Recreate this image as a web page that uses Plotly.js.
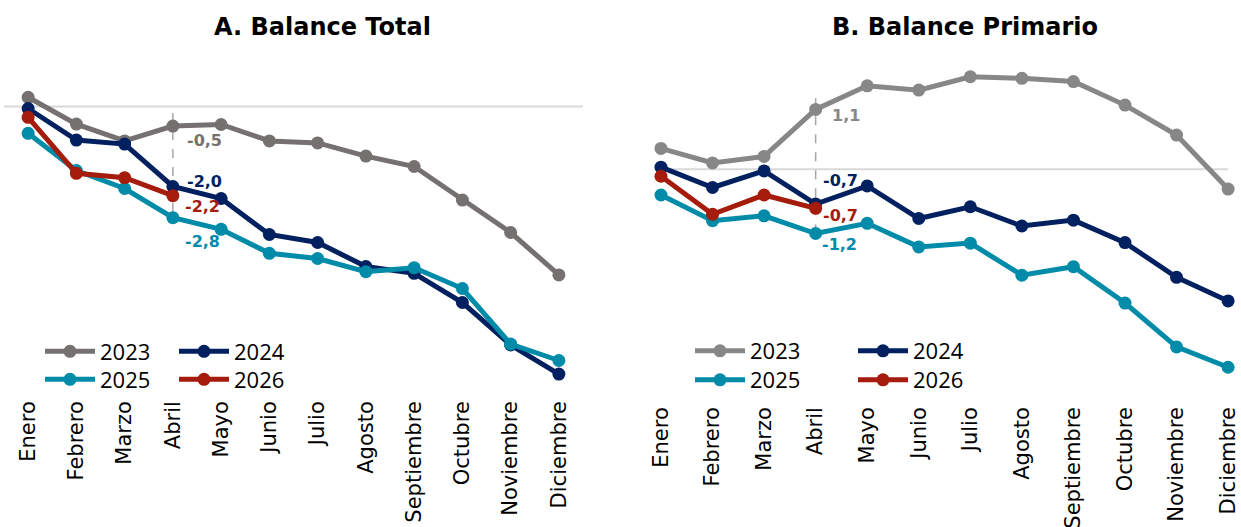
<!DOCTYPE html>
<html>
<head>
<meta charset="utf-8">
<script src="https://cdn.plot.ly/plotly-3.0.1.min.js"></script>
<style>html,body{margin:0;padding:0;background:#fff;}#chart{width:1241px;height:527px;}</style>
</head>
<body>
<div id="chart"></div>
<script>
// ---- data ----
var months = ['Enero','Febrero','Marzo','Abril','Mayo','Junio','Julio','Agosto','Septiembre','Octubre','Noviembre','Diciembre'];
var seriesNames = ['2023','2024','2025','2026'];

// A. Balance Total
var total2023 = [0.23,-0.44,-0.86,-0.49,-0.45,-0.86,-0.91,-1.24,-1.50,-2.34,-3.15,-4.21];
var total2024 = [-0.05,-0.84,-0.94,-2.00,-2.30,-3.20,-3.40,-4.00,-4.17,-4.90,-5.96,-6.69];
var total2025 = [-0.67,-1.60,-2.05,-2.78,-3.07,-3.67,-3.80,-4.13,-4.03,-4.55,-5.94,-6.35];
var total2026 = [-0.27,-1.67,-1.78,-2.23];

// B. Balance Primario
var primary2023 = [0.39,0.12,0.24,1.12,1.56,1.48,1.73,1.70,1.64,1.20,0.64,-0.37];
var primary2024 = [0.04,-0.34,-0.03,-0.65,-0.31,-0.92,-0.70,-1.06,-0.95,-1.37,-2.02,-2.46];
var primary2025 = [-0.48,-0.96,-0.87,-1.20,-1.01,-1.45,-1.38,-1.98,-1.82,-2.50,-3.32,-3.70];
var primary2026 = [-0.13,-0.84,-0.48,-0.73];

var panelTitles = ['A. Balance Total','B. Balance Primario'];
var labelMonth = 'Abril';

// ---- styling ----
var colorsLeft  = {'2023':'#767171','2024':'#00205f','2025':'#008ba8','2026':'#a51c0c'};
var colorsRight = {'2023':'#878787','2024':'#00205f','2025':'#008ba8','2026':'#a51c0c'};
var LW = 5, MS = 13;

function mk(x, y, name, color, xa, ya, legend, show) {
  return {
    type:'scatter', mode:'lines+markers', x: x.slice(0, y.length), y: y, name: name,
    xaxis: xa, yaxis: ya, legend: legend, showlegend: show,
    line:{color:color, width:LW}, marker:{color:color, size:MS},
    hoverinfo:'skip'
  };
}

var left = [total2023,total2024,total2025,total2026];
var right = [primary2023,primary2024,primary2025,primary2026];
var traces = [];
var legL = ['legend','legend','legend2','legend2'];
var legR = ['legend3','legend3','legend4','legend4'];
seriesNames.forEach(function(n,i){ traces.push(mk(months, left[i], n, colorsLeft[n], 'x','y', legL[i], true)); });
seriesNames.forEach(function(n,i){ traces.push(mk(months, right[i], n, colorsRight[n], 'x2','y2', legR[i], true)); });

var W = 1241, H = 527;
function px(v){ return v / W; }
function py(v){ return 1 - v / H; }

var ai = months.indexOf(labelMonth);
function fmt(v){ return v.toFixed(1).replace('.', ','); }
var lblFont = {family:'DejaVu Sans', size:16, weight:'bold'};
function lab(xr, yr, v, color, xs, ys) {
  return {xref:xr, yref:yr, x: labelMonth, y: v, text: fmt(v), showarrow:false,
          xanchor:'left', yanchor:'middle', xshift:xs, yshift:ys,
          font:Object.assign({color:color}, lblFont)};
}

var annotations = [
  {xref:'paper', yref:'paper', x:px(322), y:py(27), text:'<b>'+panelTitles[0]+'</b>', showarrow:false,
   xanchor:'center', yanchor:'middle', font:{family:'DejaVu Sans', size:24, color:'#000'}},
  {xref:'paper', yref:'paper', x:px(965), y:py(27), text:'<b>'+panelTitles[1]+'</b>', showarrow:false,
   xanchor:'center', yanchor:'middle', font:{family:'DejaVu Sans', size:24, color:'#000'}},
  lab('x','y', total2023[ai], colorsLeft['2023'], 12, -14),
  lab('x','y', total2024[ai], colorsLeft['2024'], 12, 5),
  lab('x','y', total2026[ai], colorsLeft['2026'], 10, -11),
  lab('x','y', total2025[ai], colorsLeft['2025'], 10, -24),
  lab('x2','y2', primary2023[ai], colorsRight['2023'], 14, -6),
  lab('x2','y2', primary2024[ai], colorsRight['2024'], 5, 24),
  lab('x2','y2', primary2026[ai], colorsRight['2026'], 5, -7),
  lab('x2','y2', primary2025[ai], colorsRight['2025'], 4, -11)
];

var shapes = [
  {type:'line', xref:'x', yref:'y', x0:-0.5, x1:11.5, y0:0, y1:0, layer:'below', line:{color:'#d9d9d9', width:2}},
  {type:'line', xref:'x2', yref:'y2', x0:0, x1:11, y0:0, y1:0, layer:'below', line:{color:'#d9d9d9', width:2}},
  {type:'line', xref:'x', yref:'y', x0:ai, x1:ai, y0:-0.16, y1:-2.84, layer:'below', line:{color:'#a6a6a6', width:1.5, dash:'dash'}},
  {type:'line', xref:'x2', yref:'y2', x0:ai, x1:ai, y0:1.33, y1:-1.36, layer:'below', line:{color:'#a6a6a6', width:1.5, dash:'dash'}}
];

var tickFont = {family:'DejaVu Sans', size:21, color:'#000'};
var legFont = {family:'Open Sans', size:22, color:'#000'};
function leg(x, y, ew) {
  return {orientation:'h', x:x, y:y, xanchor:'left', yanchor:'middle', xref:'paper', yref:'paper',
          bgcolor:'rgba(0,0,0,0)', font:legFont, entrywidth:ew, entrywidthmode:'pixels',
          itemwidth:50, tracegroupgap:0, traceorder:'normal'};
}

var layout = {
  width:W, height:H, margin:{l:0,r:0,t:0,b:0}, paper_bgcolor:'#fff', plot_bgcolor:'rgba(0,0,0,0)',
  showlegend:true, hovermode:false,
  xaxis:{domain:[px(4), px(583)], range:[-0.5, 11.5], type:'category', categoryorder:'array', categoryarray:months,
         tickangle:-90, tickfont:tickFont, showgrid:false, zeroline:false, showline:false, ticks:'', fixedrange:true},
  yaxis:{domain:[py(396), py(60)], range:[-7.2375, 1.1625], showgrid:false, zeroline:false, showticklabels:false, showline:false, fixedrange:true},
  xaxis2:{domain:[px(645), 1], range:[-0.31, 11.25], type:'category', categoryorder:'array', categoryarray:months,
          tickangle:-90, tickfont:tickFont, showgrid:false, zeroline:false, showline:false, ticks:'', fixedrange:true, anchor:'y2'},
  yaxis2:{domain:[py(402), py(60)], range:[-4.3495, 2.043], showgrid:false, zeroline:false, showticklabels:false, showline:false, anchor:'x2', fixedrange:true},
  legend: leg(px(40), py(351.5), 69),
  legend2: leg(px(40), py(379.5), 69),
  legend3: leg(px(690), py(351), 98),
  legend4: leg(px(690), py(380), 98),
  annotations: annotations,
  shapes: shapes
};

Plotly.newPlot('chart', traces, layout, {displayModeBar:false, staticPlot:true});
</script>
</body>
</html>
